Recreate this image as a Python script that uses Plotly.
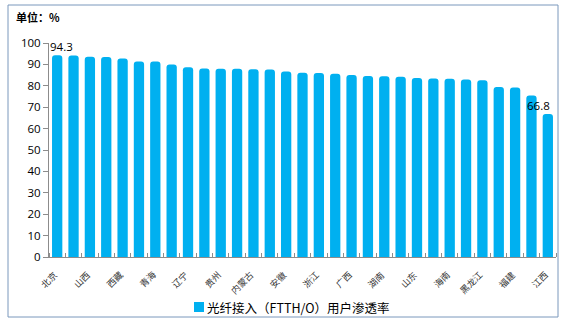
import plotly.graph_objects as go

# FTTH/O penetration by province (%), sorted high to low
provinces = [
    "北京", "天津", "山西", "上海", "西藏", "江苏", "青海", "河北",
    "辽宁", "宁夏", "贵州", "重庆", "内蒙古", "吉林", "安徽", "陕西",
    "浙江", "河南", "广西", "湖北", "湖南", "四川", "山东", "甘肃",
    "海南", "广东", "黑龙江", "新疆", "福建", "云南", "江西",
]
penetration = [
    94.3, 94.2, 93.6, 93.5, 92.8, 91.4, 91.3, 89.9,
    88.7, 88.1, 88.0, 88.0, 87.7, 87.6, 86.7, 86.1,
    86.0, 85.6, 85.0, 84.6, 84.5, 84.2, 83.7, 83.4,
    83.3, 82.9, 82.6, 79.4, 79.2, 75.5, 66.8,
]
y_ticks = list(range(0, 101, 10))
series_name = "光纤接入（FTTH/O）用户渗透率"
unit_text = "<b>单位：%</b>"

# bars sit at integer slots; every other province name is printed
slots = list(range(len(provinces)))
label_slots = slots[::2]
label_names = provinces[::2]

W, H = 564, 325
L, R, T, B = 49, 8, 43, 68
pw, ph = W - L - R, H - T - B


def px_to_paper_x(px):
    return (px - L) / pw


def px_to_paper_y(py):
    return (H - B - py) / ph


BLUE = "#00B0F0"
CJK = "Noto Sans CJK SC"

fig = go.Figure()
fig.add_trace(go.Bar(
    x=slots,
    y=penetration,
    name=series_name,
    customdata=provinces,
    hovertemplate="%{customdata}: %{y}%<extra></extra>",
    marker=dict(color=BLUE, line=dict(width=0), cornerradius=3),
    showlegend=False,
))

# slanted category names under the axis
for s, name in zip(label_slots, label_names):
    fig.add_annotation(
        x=s, y=0, xref="x", yref="y",
        text=name, showarrow=False, textangle=-45,
        xanchor="right", yanchor="top", xshift=6, yshift=-9,
        font=dict(family=CJK, size=9, color="#333333"),
    )

# value labels on the first and last bars
label_shift = {0: 4, len(provinces) - 1: -9}
for i, dx in label_shift.items():
    fig.add_annotation(
        x=slots[i], y=penetration[i], xref="x", yref="y",
        text=f"{penetration[i]:.1f}", showarrow=False,
        yanchor="bottom", xshift=dx, yshift=-1,
        font=dict(family="Open Sans", size=11.5, color="#000000"),
    )

fig.add_annotation(
    x=px_to_paper_x(14), y=px_to_paper_y(17), xref="paper", yref="paper",
    text=unit_text, showarrow=False, xanchor="left", yanchor="middle",
    font=dict(family=CJK, size=11, color="#000000"),
)

# series key under the plot
fig.add_shape(
    type="rect", xref="paper", yref="paper",
    x0=px_to_paper_x(194), x1=px_to_paper_x(204),
    y0=px_to_paper_y(312), y1=px_to_paper_y(302),
    line=dict(width=0), fillcolor=BLUE,
)
fig.add_annotation(
    x=px_to_paper_x(205), y=px_to_paper_y(307), xref="paper", yref="paper",
    text=series_name, showarrow=False, xanchor="left", yanchor="middle",
    font=dict(family=CJK, size=12.5, color="#000000"),
)

# chart frame
fig.add_shape(
    type="rect", xref="paper", yref="paper",
    x0=px_to_paper_x(8), x1=px_to_paper_x(558),
    y0=px_to_paper_y(317), y1=px_to_paper_y(5),
    line=dict(color="#7B98BC", width=1), fillcolor="rgba(0,0,0,0)",
)

fig.update_layout(
    width=W, height=H, autosize=False,
    margin=dict(l=L, r=R, t=T, b=B, pad=0),
    paper_bgcolor="white", plot_bgcolor="white",
    bargap=0.37,
    showlegend=False,
    font=dict(family="Open Sans", color="#000000"),
    xaxis=dict(
        range=[-0.5, len(provinces) - 0.5],
        showticklabels=False, ticks="",
        minor=dict(ticks="inside", tick0=0.5, dtick=1, ticklen=4,
                   tickcolor="#8C8C8C", showgrid=False),
        showline=True, linecolor="#8C8C8C", linewidth=1,
        showgrid=False, zeroline=False,
    ),
    yaxis=dict(
        range=[0, 100], tickmode="array", tickvals=y_ticks,
        ticks="outside", ticklen=5, tickcolor="#8C8C8C",
        showline=True, linecolor="#8C8C8C", linewidth=1,
        showgrid=False, zeroline=False,
        tickfont=dict(family="Open Sans", size=11.5, color="#000000"),
    ),
)

fig.write_html("out.html")
